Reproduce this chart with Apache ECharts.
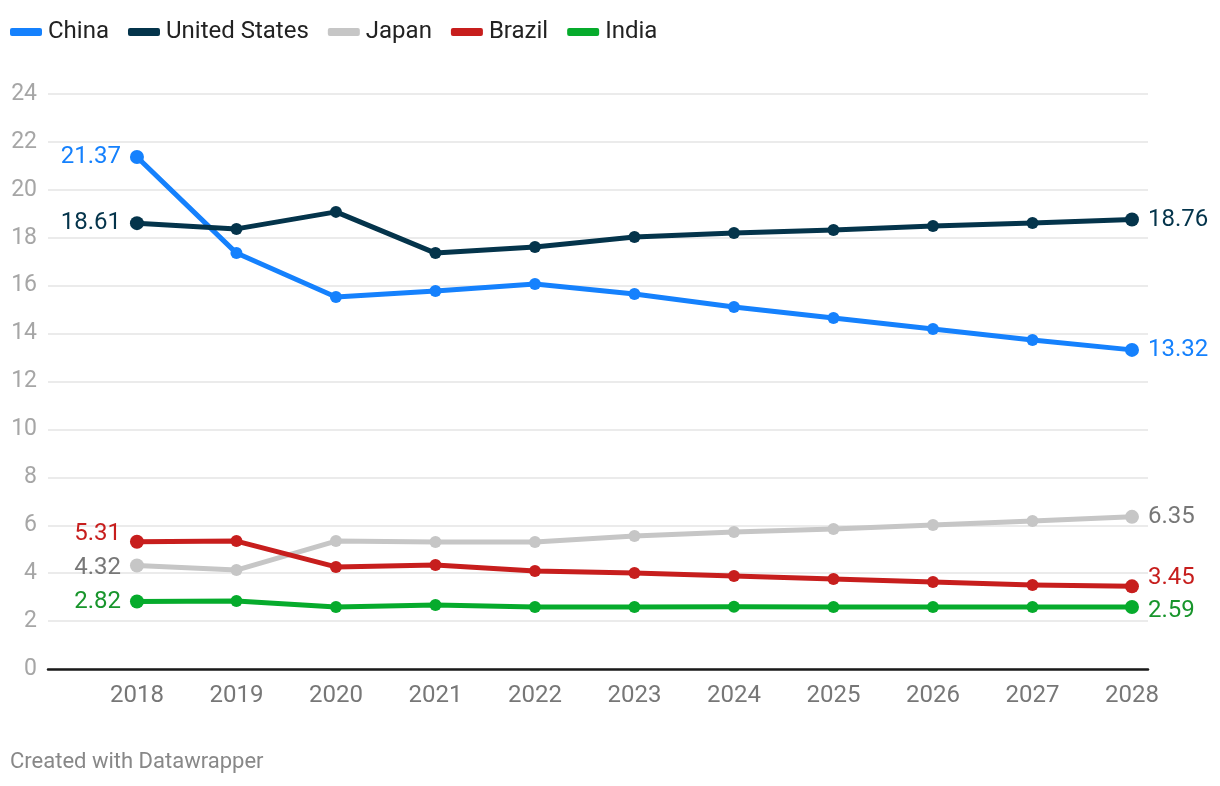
<!DOCTYPE html>
<html>
<head>
<meta charset="utf-8">
<script src="https://cdn.jsdelivr.net/npm/echarts@6/dist/echarts.min.js"></script>
<style>
html,body{margin:0;padding:0;background:#fff;}
#chart{width:1220px;height:786px;}
</style>
</head>
<body>
<div id="chart"></div>
<script>
const years = [2018,2019,2020,2021,2022,2023,2024,2025,2026,2027,2028];
const china = [21.37,17.36,15.53,15.78,16.07,15.65,15.11,14.65,14.19,13.73,13.32];
const unitedStates = [18.61,18.37,19.08,17.36,17.61,18.03,18.2,18.32,18.49,18.62,18.76];
const japan = [4.32,4.13,5.34,5.30,5.30,5.55,5.72,5.84,6.01,6.18,6.35];
const brazil = [5.31,5.34,4.26,4.34,4.09,4.01,3.88,3.76,3.63,3.51,3.45];
const india = [2.82,2.84,2.59,2.67,2.59,2.59,2.60,2.59,2.59,2.59,2.59];
const yTicks = [0,2,4,6,8,10,12,14,16,18,20,22,24];

const seriesDefs = [
  {name:'China', data:china, color:'#1581fd', labelColor:'#1581fd', offL:[0,0], offR:[0,0]},
  {name:'United States', data:unitedStates, color:'#04344b', labelColor:'#04344b', offL:[0,0], offR:[0,0]},
  {name:'Japan', data:japan, color:'#c6c6c6', labelColor:'#777777', offL:[0,2], offR:[0,0]},
  {name:'Brazil', data:brazil, color:'#c71e1d', labelColor:'#c71e1d', offL:[0,-8], offR:[0,-8]},
  {name:'India', data:india, color:'#06ab2c', labelColor:'#18952c', offL:[0,1], offR:[0,4]}
];

const chart = echarts.init(document.getElementById('chart'), null, {renderer:'canvas'});

const series = seriesDefs.map(s => ({
  name: s.name,
  type: 'line',
  data: s.data.map((v,i) => {
    const last = i === s.data.length - 1;
    const first = i === 0;
    return {
      value: [years[i], v],
      symbolSize: (first || last) ? 14 : 12,
      label: {
        show: first || last,
        position: first ? 'left' : 'right',
        distance: 9,
        offset: first ? s.offL : s.offR,
        formatter: v.toFixed(2),
        color: s.labelColor,
        fontSize: 24,
        fontFamily: 'Roboto'
      }
    };
  }),
  symbol: 'circle',
  lineStyle: {width: 5, color: s.color, cap:'round', join:'round'},
  itemStyle: {color: s.color},
  emphasis: {disabled: true},
  animation: false,
  z: 3
}));

chart.setOption({
  animation: false,
  textStyle: {fontFamily: 'Roboto'},
  legend: {
    left: 5,
    top: 15,
    itemWidth: 32,
    itemHeight: 8,
    itemGap: 19,
    icon: 'roundRect',
    textStyle: {fontSize: 24, color: '#222', fontFamily: 'Roboto', padding:[0,0,0,1]},
    data: seriesDefs.map(s => ({name: s.name, itemStyle:{color:s.color}}))
  },
  grid: {left: 48, right: 72, top: 94, bottom: 117, containLabel: false},
  xAxis: {
    type: 'value',
    min: 2017.106,
    max: 2028.161,
    axisLine: {show: true, onZero: false, lineStyle: {color: '#1a1a1a', width: 2.5}},
    axisTick: {show: false},
    splitLine: {show: false},
    axisLabel: {
      customValues: years,
      formatter: v => String(v),
      fontSize: 24,
      color: '#777',
      margin: 15,
      fontFamily: 'Roboto'
    }
  },
  yAxis: {
    type: 'value',
    min: 0,
    max: 24,
    interval: 2,
    axisLine: {show: false},
    axisTick: {show: false},
    splitLine: {show: true, lineStyle: {color: '#e4e4e4', width: 1.5}},
    axisLabel: {
      fontSize: 23,
      color: '#a6a6a6',
      margin: 11,
      fontFamily: 'Roboto',
      formatter: v => yTicks.includes(v) ? String(v) : ''
    }
  },
  graphic: [{
    type: 'text',
    left: 10,
    top: 751,
    style: {text: 'Created with Datawrapper', fontSize: 22, fill: '#888', fontFamily: 'Roboto'}
  }],
  series: series
});
</script>
</body>
</html>
